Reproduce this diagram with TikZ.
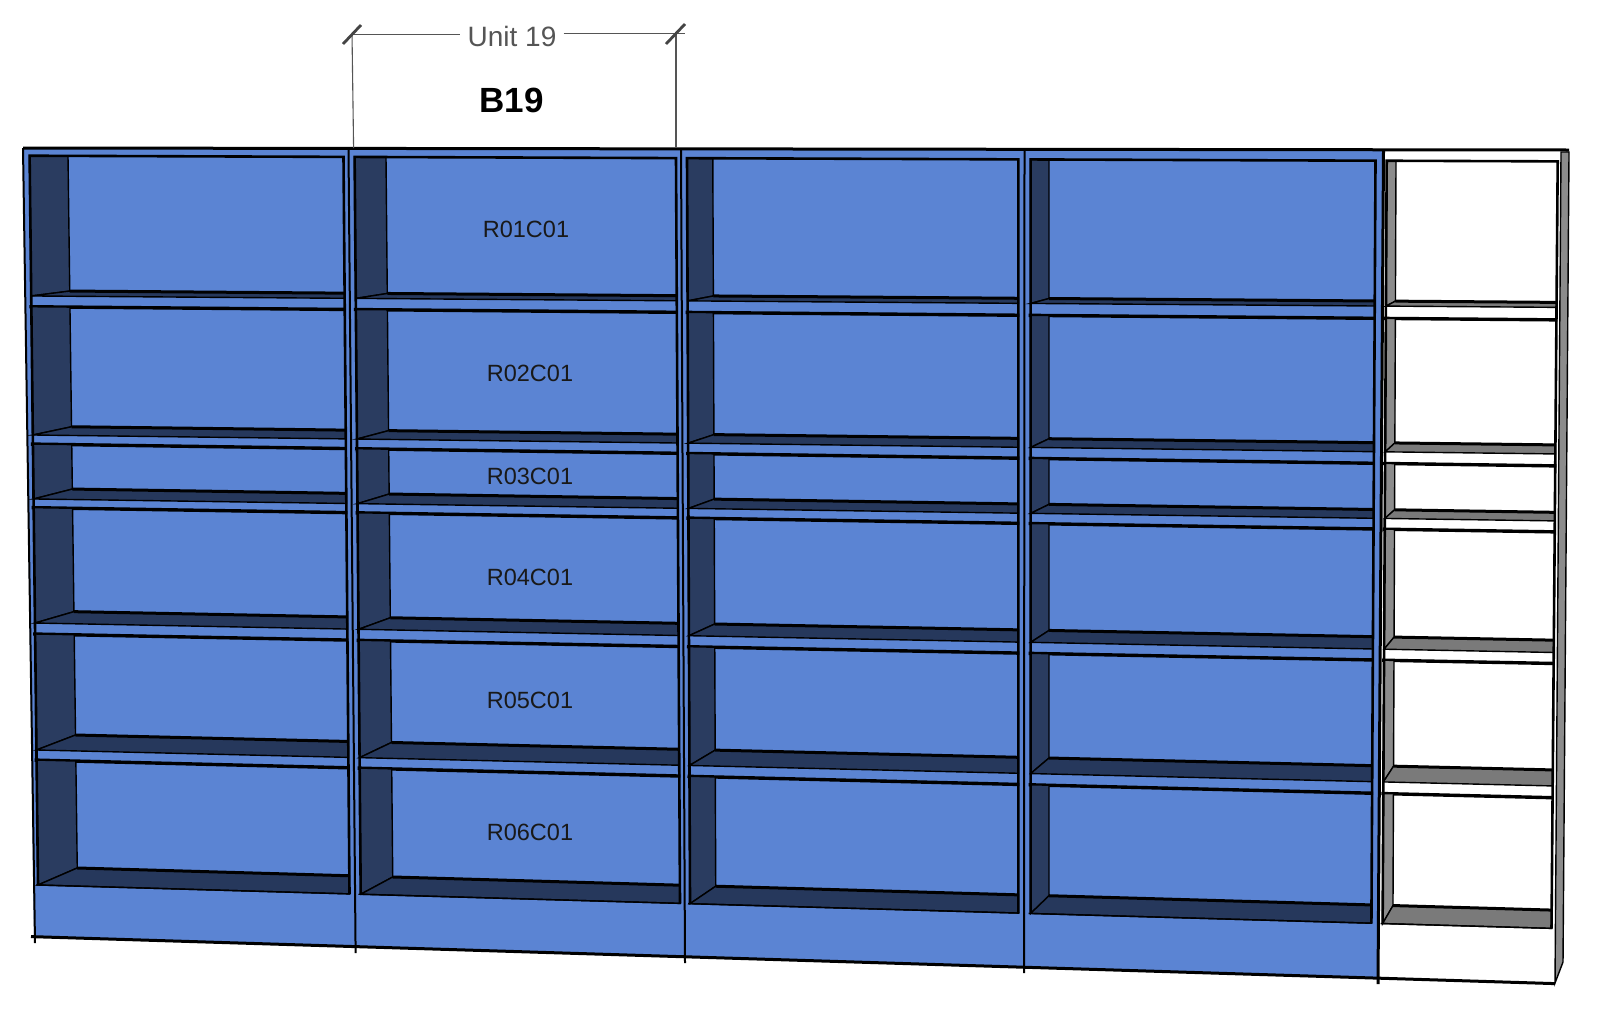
\documentclass[tikz,border=0pt]{standalone}
\usepackage{fontspec}
\setmainfont{Liberation Sans}
\definecolor{unitblue}{HTML}{5B84D3}
\definecolor{bluewall}{HTML}{2A3C60}
\definecolor{blueshelf}{HTML}{26385C}
\definecolor{greywall}{HTML}{8C8C8C}
\definecolor{greyshelf}{HTML}{7A7A7A}
\definecolor{dimgrey}{HTML}{555555}
\tikzset{
	cell/.style={font=\fontsize{23.5}{27}\selectfont, text=black!90, inner sep=0pt},
	wall/.style={draw=black, line width=1.4pt},
	backedge/.style={draw=black, line width=3pt},
	bayedge/.style={draw=black, line width=2.6pt},
	post/.style={draw=black, line width=2pt},
	dim/.style={draw=dimgrey, line width=1.1pt},
	tick/.style={draw=dimgrey!80!black, line width=2.8pt},
}
\newcommand{\baypt}[5]{%
	\pgfmathsetmacro\px{#2+(#3-#2)/729.5*(#4-155.8)}%
	\pgfmathsetmacro\py{#4+(#5-#4)/1324*(\px-50)}%
	\coordinate (#1) at (\px,\py);}

\begin{document}
\begin{tikzpicture}[x=1pt, y=-1pt]
\useasboundingbox (0,0) rectangle (1600,1015);

% panel and the strip on the right
\fill[unitblue] (23,148) -- (1383,150) -- (1378,978) -- (34,937) -- cycle;
\draw[wall, fill=greywall] (1561,152) -- (1569,152) -- (1563,962) -- (1555,983) -- cycle;

% bays: left, back and right edge, each at top and bottom
\foreach \xl/\xL/\xk/\xK/\xr/\xR/\wallcol/\shelfcol in {
	29.6/38/68/77.5/343.5/349.5/bluewall/blueshelf,
	354.6/360.7/386/392.9/676/680/bluewall/blueshelf,
	687/690/712.8/715.8/1018.4/1018.4/bluewall/blueshelf,
	1030.6/1030.6/1049/1049/1375.5/1371.4/bluewall/blueshelf,
	1386.7/1382.6/1396/1392.9/1557.7/1551.5/greywall/greyshelf}
{
	\foreach \topa/\topb/\bka/\bkb/\fra/\frb/\loa/\lob/\low in {
		155.8/160.7/290.9/301/296.1/306/306.9/318.3/3.4,
		306.9/318.3/426.5/442.7/435.2/451.7/444.3/463.3/3.4,
		444.3/463.3/488.7/509.5/499.2/518.3/507.9/529/3.4,
		507.9/529/611.2/636.7/623.3/649/634.3/660/3.4,
		634.3/660/734.4/765.7/750.3/781.7/760.4/793.3/3.4,
		760.4/793.3/867.2/905/885.3/923.3/885.3/923.3/1.4}
	{
		\baypt{wa}{\xl}{\xL}{\topa}{\topb}
		\baypt{wb}{\xk}{\xK}{\topa}{\topb}
		\baypt{wc}{\xk}{\xK}{\bka}{\bkb}
		\baypt{wd}{\xl}{\xL}{\fra}{\frb}
		\baypt{se}{\xr}{\xR}{\bka}{\bkb}
		\baypt{sf}{\xr}{\xR}{\fra}{\frb}
		\baypt{la}{\xl}{\xL}{\loa}{\lob}
		\baypt{lb}{\xr}{\xR}{\loa}{\lob}
		\draw[wall, fill=\wallcol] (wa) -- (wb) -- (wc) -- (wd) -- cycle;
		\draw[wall, fill=\shelfcol] (wc) -- (se) -- (sf) -- (wd) -- cycle;
		\draw[backedge] (wc) -- (se);
		\draw[black, line width=\low pt] ([xshift=-2pt]la) -- ([xshift=1pt]lb);
	}
	\baypt{ta}{\xl}{\xL}{155.8}{160.7}
	\baypt{tb}{\xr}{\xR}{155.8}{160.7}
	\baypt{ba}{\xl}{\xL}{885.3}{923.3}
	\baypt{bb}{\xr}{\xR}{885.3}{923.3}
	\draw[bayedge, line join=miter] (ba) -- (ta) -- (tb) -- (bb);
}

% posts and outer edges
\draw[black, line width=3pt] (23,148) -- (1569,150);
\draw[black, line width=3pt] (31,936.6) -- (1555,983.6);
\draw[post] (23,148) -- (35,943);
\draw[post] (348.5,150) -- (355.6,953);
\draw[post] (681,150) -- (685,963);
\draw[post] (1024.5,150) -- (1024,973);
\draw[post, line width=3pt] (1383.5,150) -- (1378,984);

% labels
\node[cell] (rowa) at (526,229.5) {R01C01};
\node[cell] (rowb) at (530,373) {R02C01};
\node[cell] (rowc) at (530,476) {R03C01};
\node[cell] (rowd) at (530,577) {R04C01};
\node[cell] (rowe) at (530,700.5) {R05C01};
\node[cell] (rowf) at (530,832.5) {R06C01};
\node[font=\fontsize{35}{40}\selectfont\bfseries, inner sep=0pt] (bay) at (511.5,100) {B19};
\node[font=\fontsize{28}{32}\selectfont, text=dimgrey, inner xsep=7pt, inner ysep=0pt] (unit) at (512,36.5) {Unit 19};

% dimension
\coordinate (dimL) at (352,34.5);
\coordinate (dimR) at (685,33.5);
\coordinate (footL) at (353.6,148);
\coordinate (footR) at (676,148);
\coordinate (leftT) at (352,33.5);
\coordinate (rightT) at (676,33.5);
\draw[dim] (dimL) -- (unit.west |- dimL);
\draw[dim] (unit.east |- dimR) -- (dimR);
\draw[dim] (leftT) -- (footL);
\draw[dim] (rightT) -- (footR);
\draw[tick] (343,44) -- (361,25);
\draw[tick] (666,44) -- (685,24);
\end{tikzpicture}
\end{document}
